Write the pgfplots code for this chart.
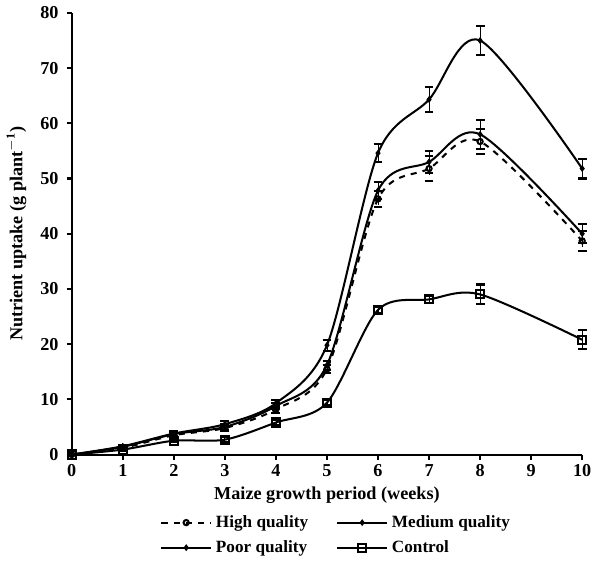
\documentclass[border=0pt]{standalone}
\usepackage{fontspec}
\setmainfont{Liberation Serif}
\usepackage{pgfplots}
\pgfplotsset{compat=1.18}
\begin{document}
\begin{tikzpicture}[font=\fontsize{9}{10.5}\selectfont\bfseries]
\begin{axis}[
 scale only axis, width=252.5pt, height=218.5pt,
 xmin=0, xmax=10, ymin=0, ymax=80,
 axis x line*=bottom, axis y line*=left,
 axis line style={line width=1pt},
 tick align=outside, major tick length=2.5pt,
 tick style={line width=1pt, black},
 xtick={0,1,...,10}, ytick={0,10,...,80},
 /pgf/number format/assume math mode=true,
 tick label style={font=\fontsize{9}{10.5}\selectfont\bfseries},
 xticklabel style={yshift=1pt},
 yticklabel style={xshift=-0.5pt},
 xlabel={Maize growth period (weeks)},
 ylabel={Nutrient uptake (g plant$^{\mathbf{-1}}$)},
 xlabel style={yshift=2pt},
 ylabel style={yshift=0pt},
 legend columns=2,
 legend cell align=left,
 legend style={at={(0.52,-0.118)}, anchor=north, draw=none, fill=none,
   font=\fontsize{8.5}{10}\selectfont\bfseries,
   /tikz/every even column/.append style={column sep=12pt},
   row sep=1pt},
 legend image code/.code={\draw[mark repeat=2,mark phase=2] plot coordinates {(0cm,0cm) (0.43cm,0cm) (0.86cm,0cm)};},
 every axis plot/.append style={line width=1pt, black, smooth, tension=0.5},
 error bars/error mark options={line width=1pt, mark size=2.2pt, rotate=90},
 clip=false,
]
\addplot+[black, dashed, mark=o, mark size=1.3pt, mark options={solid, fill=white},
  error bars/.cd, y dir=both, y explicit] coordinates {
 (0,0) +- (0,0)
 (1,1.2) +- (0,0.3)
 (2,3.5) +- (0,0.4)
 (3,4.8) +- (0,0.5)
 (4,8.2) +- (0,0.6)
 (5,15.5) +- (0,0.8)
 (6,46.3) +- (0,1.5)
 (7,51.8) +- (0,2.2)
 (8,56.7) +- (0,2.2)
 (10,38.7) +- (0,1.8)
};
\addlegendentry{High quality}
\addplot+[black, solid, mark=diamond*, mark size=0.9pt, mark options={solid, fill=black},
  error bars/.cd, y dir=both, y explicit] coordinates {
 (0,0) +- (0,0)
 (1,1.4) +- (0,0.3)
 (2,3.7) +- (0,0.4)
 (3,5.0) +- (0,0.5)
 (4,8.8) +- (0,0.6)
 (5,16.2) +- (0,0.8)
 (6,47.8) +- (0,1.6)
 (7,53.0) +- (0,2.0)
 (8,58.0) +- (0,2.6)
 (10,40.0) +- (0,1.7)
};
\addlegendentry{Medium quality}
\addplot+[black, solid, mark=diamond*, mark size=0.9pt, mark options={solid, fill=black},
  error bars/.cd, y dir=both, y explicit] coordinates {
 (0,0) +- (0,0)
 (1,1.5) +- (0,0.3)
 (2,3.8) +- (0,0.4)
 (3,5.5) +- (0,0.5)
 (4,9.3) +- (0,0.6)
 (5,19.8) +- (0,1.0)
 (6,54.6) +- (0,1.7)
 (7,64.3) +- (0,2.2)
 (8,75.0) +- (0,2.6)
 (10,51.8) +- (0,1.8)
};
\addlegendentry{Poor quality}
\addplot+[black, solid, mark=square, mark size=2pt, mark options={solid, fill=white},
  error bars/.cd, y dir=both, y explicit] coordinates {
 (0,0) +- (0,0)
 (1,0.9) +- (0,0.3)
 (2,2.5) +- (0,0.3)
 (3,2.7) +- (0,0.4)
 (4,5.8) +- (0,0.5)
 (5,9.4) +- (0,0.5)
 (6,26.2) +- (0,0.6)
 (7,28.1) +- (0,0.7)
 (8,29.0) +- (0,1.8)
 (10,20.8) +- (0,1.7)
};
\addlegendentry{Control}
\end{axis}
\end{tikzpicture}
\end{document}
